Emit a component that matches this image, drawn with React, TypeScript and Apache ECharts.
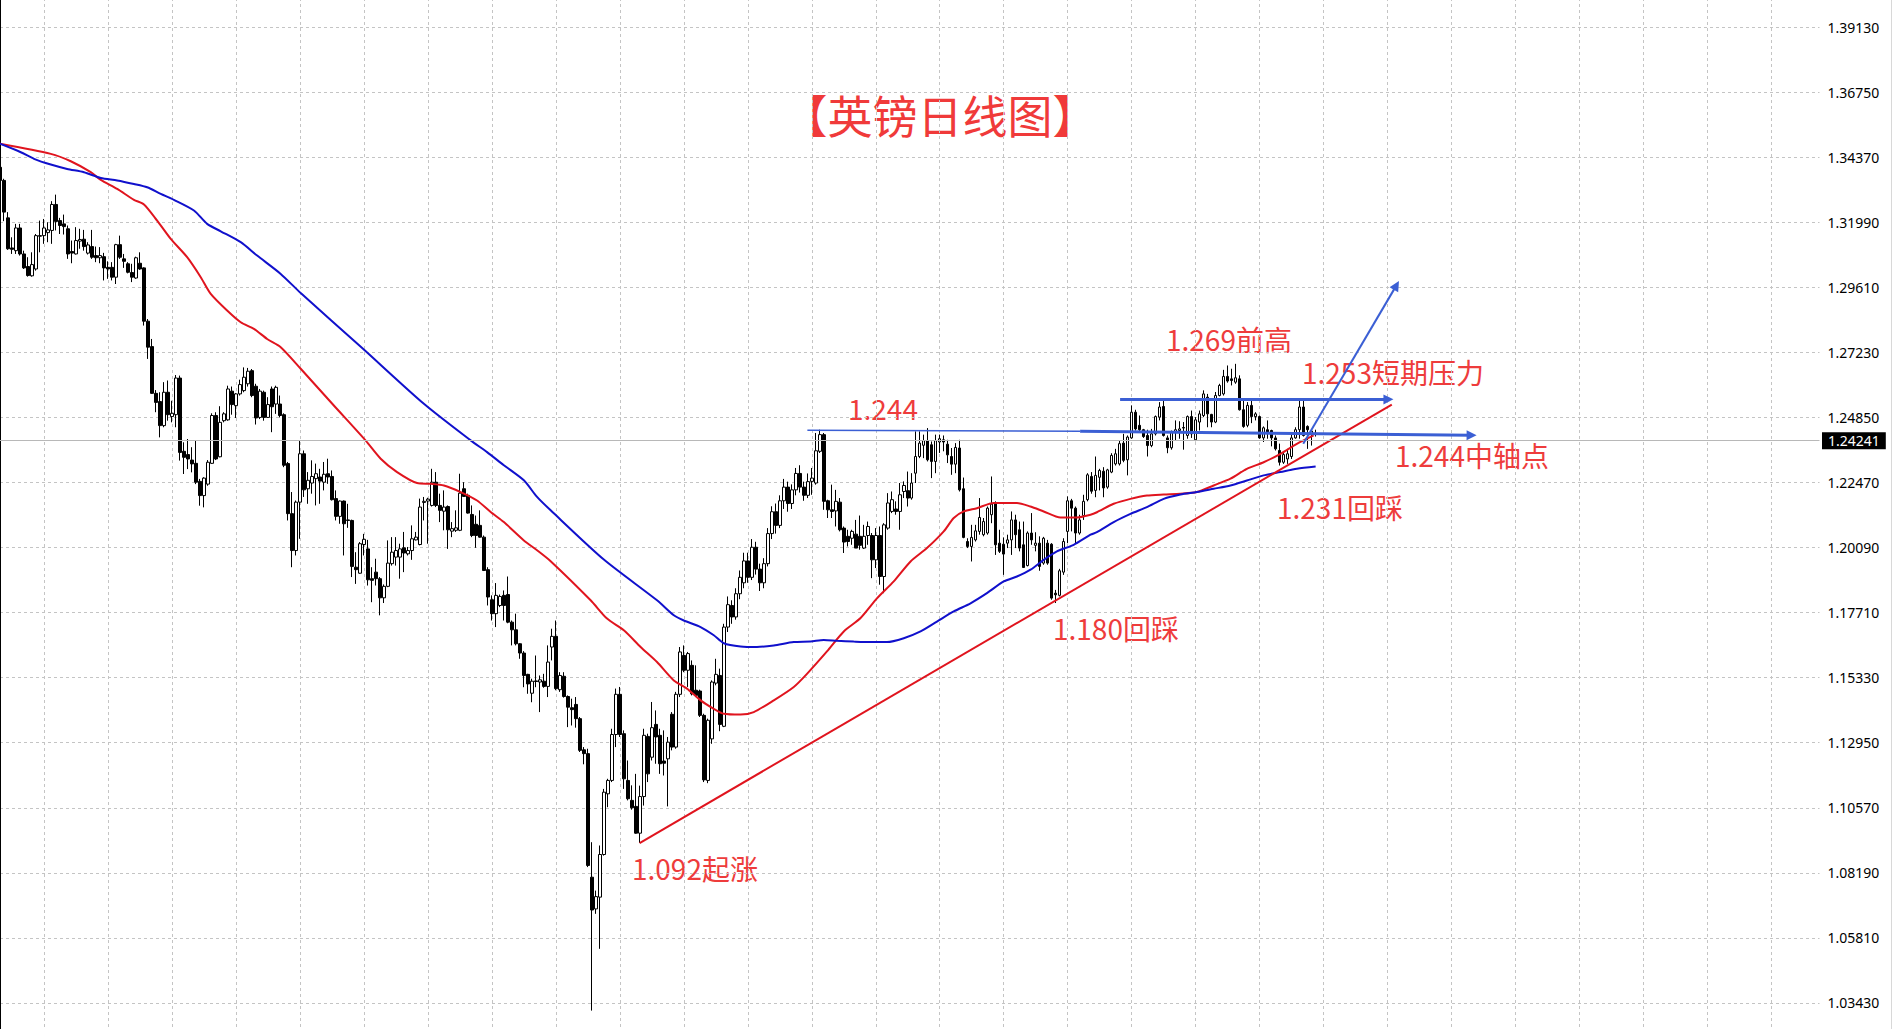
import React, { useEffect, useRef } from "react";
import * as echarts from "echarts";

// ---- data ----
// candles: [open, close, low, high], one per daily bar (bar 0 is the partial one at the left edge)
const ohlc: number[][] = [
  [1.3400,1.3352,1.3346,1.3406],[1.3352,1.3236,1.3203,1.3358],[1.3215,1.3102,1.3098,1.3236],[1.3105,1.3100,1.3083,1.3144],
  [1.3095,1.3178,1.3083,1.3193],[1.3178,1.3083,1.3077,1.3193],[1.3083,1.3032,1.3028,1.3095],[1.3037,1.3004,1.3000,1.3071],
  [1.3003,1.3044,1.3000,1.3089],[1.3028,1.3150,1.3022,1.3156],[1.3150,1.3148,1.3089,1.3205],[1.3150,1.3178,1.3120,1.3211],
  [1.3161,1.3171,1.3126,1.3199],[1.3169,1.3264,1.3120,1.3276],[1.3264,1.3202,1.3169,1.3300],[1.3205,1.3187,1.3156,1.3215],
  [1.3193,1.3183,1.3154,1.3227],[1.3175,1.3083,1.3065,1.3187],[1.3092,1.3086,1.3049,1.3132],[1.3083,1.3132,1.3081,1.3181],
  [1.3130,1.3136,1.3102,1.3175],[1.3137,1.3110,1.3095,1.3171],[1.3086,1.3116,1.3081,1.3126],[1.3110,1.3071,1.3065,1.3171],
  [1.3077,1.3069,1.3053,1.3110],[1.3069,1.3077,1.3049,1.3108],[1.3073,1.3032,1.2986,1.3087],[1.3034,1.3028,1.2992,1.3056],
  [1.3034,1.2998,1.2986,1.3053],[1.2998,1.3117,1.2973,1.3120],[1.3117,1.3071,1.3065,1.3150],[1.3065,1.3056,1.3032,1.3083],
  [1.3047,1.3016,1.3012,1.3053],[1.3015,1.2998,1.2980,1.3047],[1.2995,1.3069,1.2992,1.3073],[1.3049,1.3028,1.3025,1.3089],
  [1.3032,1.2837,1.2821,1.3034],[1.2837,1.2742,1.2699,1.2845],[1.2744,1.2573,1.2571,1.2772],[1.2573,1.2540,1.2504,1.2585],
  [1.2543,1.2455,1.2412,1.2577],[1.2455,1.2577,1.2449,1.2614],[1.2577,1.2495,1.2473,1.2620],[1.2488,1.2500,1.2467,1.2546],
  [1.2495,1.2629,1.2449,1.2640],[1.2629,1.2357,1.2327,1.2638],[1.2361,1.2339,1.2278,1.2394],[1.2349,1.2333,1.2296,1.2406],
  [1.2329,1.2315,1.2284,1.2376],[1.2317,1.2248,1.2241,1.2402],[1.2251,1.2199,1.2162,1.2260],[1.2199,1.2263,1.2156,1.2266],
  [1.2241,1.2321,1.2235,1.2329],[1.2317,1.2492,1.2315,1.2500],[1.2492,1.2333,1.2329,1.2504],[1.2341,1.2467,1.2339,1.2526],
  [1.2473,1.2498,1.2467,1.2504],[1.2476,1.2589,1.2473,1.2601],[1.2581,1.2532,1.2495,1.2598],[1.2528,1.2571,1.2483,1.2574],
  [1.2571,1.2605,1.2565,1.2623],[1.2583,1.2632,1.2577,1.2668],[1.2608,1.2654,1.2598,1.2666],[1.2656,1.2565,1.2559,1.2662],
  [1.2599,1.2483,1.2459,1.2608],[1.2485,1.2581,1.2479,1.2589],[1.2577,1.2485,1.2473,1.2583],[1.2485,1.2532,1.2483,1.2559],
  [1.2589,1.2524,1.2431,1.2598],[1.2534,1.2595,1.2498,1.2601],[1.2534,1.2492,1.2485,1.2565],[1.2495,1.2310,1.2303,1.2500],
  [1.2316,1.2133,1.2108,1.2322],[1.2133,1.1998,1.1937,1.2212],[1.1998,1.2175,1.1980,1.2181],[1.2175,1.2352,1.2041,1.2401],
  [1.2352,1.2220,1.2194,1.2364],[1.2224,1.2255,1.2169,1.2285],[1.2245,1.2269,1.2206,1.2328],[1.2261,1.2279,1.2163,1.2316],
  [1.2267,1.2252,1.2169,1.2297],[1.2248,1.2277,1.2218,1.2322],[1.2279,1.2267,1.2242,1.2334],[1.2269,1.2184,1.2181,1.2291],
  [1.2188,1.2123,1.2108,1.2218],[1.2123,1.2179,1.2096,1.2181],[1.2179,1.2096,1.1980,1.2181],[1.2110,1.2108,1.2081,1.2169],
  [1.2108,1.1940,1.1901,1.2111],[1.1937,1.1928,1.1876,1.1992],[1.1915,1.2023,1.1913,1.2029],[1.2020,1.2039,1.1980,1.2059],
  [1.2004,1.1891,1.1870,1.2037],[1.1895,1.1889,1.1809,1.1937],[1.1919,1.1895,1.1870,1.1968],[1.1895,1.1825,1.1761,1.1901],
  [1.1825,1.1867,1.1806,1.1874],[1.1867,1.1952,1.1864,1.2035],[1.1950,1.1992,1.1943,1.2047],[1.1974,1.1998,1.1943,1.2047],
  [1.1974,1.2004,1.1895,1.2023],[1.2008,1.1989,1.1919,1.2066],[1.1986,1.1998,1.1980,1.2011],[1.1998,1.2041,1.1964,1.2090],
  [1.2037,1.2047,1.2035,1.2066],[1.2020,1.2157,1.2017,1.2188],[1.2174,1.2178,1.2108,1.2194],[1.2179,1.2186,1.2023,1.2191],
  [1.2163,1.2248,1.2159,1.2297],[1.2248,1.2163,1.2157,1.2285],[1.2163,1.2145,1.2102,1.2206],[1.2142,1.2157,1.2072,1.2218],
  [1.2159,1.2074,1.2004,1.2163],[1.2069,1.2078,1.2047,1.2102],[1.2072,1.2081,1.2066,1.2145],[1.2072,1.2208,1.2069,1.2279],
  [1.2224,1.2196,1.2194,1.2248],[1.2200,1.2135,1.2133,1.2206],[1.2130,1.2053,1.2047,1.2163],[1.2094,1.2053,1.2008,1.2126],
  [1.2090,1.2047,1.2045,1.2145],[1.2047,1.1925,1.1923,1.2053],[1.1928,1.1828,1.1797,1.1937],[1.1818,1.1767,1.1742,1.1834],
  [1.1767,1.1834,1.1718,1.1879],[1.1797,1.1830,1.1791,1.1837],[1.1834,1.1797,1.1742,1.1852],[1.1837,1.1736,1.1732,1.1903],
  [1.1736,1.1708,1.1651,1.1742],[1.1708,1.1657,1.1651,1.1767],[1.1657,1.1623,1.1602,1.1659],[1.1623,1.1541,1.1498,1.1630],
  [1.1545,1.1510,1.1474,1.1547],[1.1476,1.1520,1.1443,1.1529],[1.1521,1.1519,1.1498,1.1614],[1.1517,1.1525,1.1407,1.1541],
  [1.1520,1.1501,1.1496,1.1547],[1.1501,1.1590,1.1462,1.1651],[1.1645,1.1684,1.1596,1.1712],[1.1684,1.1493,1.1487,1.1742],
  [1.1489,1.1541,1.1481,1.1553],[1.1538,1.1464,1.1460,1.1553],[1.1464,1.1425,1.1352,1.1468],[1.1423,1.1416,1.1358,1.1456],
  [1.1435,1.1383,1.1350,1.1462],[1.1383,1.1267,1.1261,1.1389],[1.1269,1.1255,1.1216,1.1279],[1.1255,1.0846,1.0840,1.1273],
  [1.0803,1.0683,1.0315,1.0931],[1.0687,1.0732,1.0669,1.0754],[1.0730,1.0886,1.0541,1.0919],[1.0886,1.1114,1.0882,1.1126],
  [1.1108,1.1157,1.1059,1.1163],[1.1157,1.1325,1.1151,1.1346],[1.1325,1.1472,1.1279,1.1493],[1.1472,1.1325,1.1316,1.1499],
  [1.1328,1.1163,1.1126,1.1340],[1.1157,1.1090,1.1084,1.1230],[1.1084,1.1057,1.1050,1.1139],[1.1062,1.0964,1.0962,1.1181],
  [1.0964,1.1098,1.0928,1.1138],[1.1098,1.1322,1.1065,1.1346],[1.1318,1.1181,1.1151,1.1328],[1.1242,1.1350,1.1230,1.1444],
  [1.1362,1.1316,1.1218,1.1413],[1.1322,1.1218,1.1181,1.1346],[1.1228,1.1220,1.1175,1.1340],[1.1236,1.1297,1.1062,1.1316],
  [1.1399,1.1279,1.1267,1.1407],[1.1279,1.1472,1.1273,1.1481],[1.1472,1.1627,1.1462,1.1645],[1.1614,1.1560,1.1553,1.1651],
  [1.1560,1.1621,1.1499,1.1627],[1.1578,1.1474,1.1468,1.1596],[1.1487,1.1468,1.1462,1.1578],[1.1484,1.1395,1.1389,1.1489],
  [1.1395,1.1159,1.1151,1.1401],[1.1157,1.1377,1.1147,1.1383],[1.1309,1.1517,1.1291,1.1523],[1.1513,1.1545,1.1505,1.1602],
  [1.1541,1.1362,1.1337,1.1566],[1.1355,1.1718,1.1352,1.1730],[1.1718,1.1800,1.1700,1.1830],[1.1797,1.1755,1.1730,1.1816],
  [1.1755,1.1840,1.1745,1.1860],[1.1840,1.1900,1.1820,1.1925],[1.1880,1.1960,1.1860,1.1990],[1.1960,1.1900,1.1880,1.1990],
  [1.1900,1.2010,1.1890,1.2040],[1.2010,1.1930,1.1910,1.2030],[1.1930,1.1880,1.1850,1.1950],[1.1880,1.1950,1.1860,1.1970],
  [1.1950,1.2060,1.1940,1.2080],[1.2060,1.2140,1.2040,1.2160],[1.2140,1.2090,1.2060,1.2170],[1.2090,1.2180,1.2080,1.2200],
  [1.2180,1.2230,1.2150,1.2260],[1.2230,1.2170,1.2140,1.2250],[1.2170,1.2220,1.2150,1.2240],[1.2220,1.2280,1.2200,1.2300],
  [1.2280,1.2230,1.2210,1.2310],[1.2230,1.2200,1.2180,1.2250],[1.2200,1.2250,1.2190,1.2280],[1.2251,1.2263,1.2202,1.2300],
  [1.2245,1.2363,1.2239,1.2428],[1.2361,1.2422,1.2355,1.2440],[1.2422,1.2178,1.2147,1.2428],[1.2180,1.2147,1.2117,1.2184],
  [1.2147,1.2141,1.2117,1.2239],[1.2143,1.2178,1.2086,1.2220],[1.2175,1.2074,1.2068,1.2190],[1.2080,1.2029,1.1989,1.2086],
  [1.2050,1.2031,1.2013,1.2074],[1.2043,1.2068,1.2019,1.2074],[1.2058,1.2007,1.2007,1.2110],[1.2050,1.2017,1.2001,1.2126],
  [1.2007,1.2050,1.2004,1.2092],[1.2053,1.2086,1.2019,1.2104],[1.2053,1.1964,1.1897,1.2062],[1.1964,1.2053,1.1934,1.2080],
  [1.2053,1.1903,1.1873,1.2086],[1.1903,1.2092,1.1842,1.2098],[1.2080,1.2172,1.2074,1.2208],[1.2141,1.2184,1.2135,1.2214],
  [1.2150,1.2141,1.2129,1.2178],[1.2141,1.2202,1.2074,1.2245],[1.2214,1.2236,1.2190,1.2251],[1.2217,1.2190,1.2159,1.2287],
  [1.2190,1.2245,1.2184,1.2281],[1.2281,1.2342,1.2245,1.2434],[1.2342,1.2391,1.2336,1.2434],[1.2383,1.2400,1.2336,1.2422],
  [1.2400,1.2330,1.2324,1.2446],[1.2385,1.2324,1.2263,1.2397],[1.2324,1.2400,1.2281,1.2422],[1.2395,1.2407,1.2355,1.2422],
  [1.2403,1.2395,1.2361,1.2419],[1.2387,1.2348,1.2318,1.2403],[1.2342,1.2314,1.2275,1.2373],[1.2314,1.2375,1.2281,1.2391],
  [1.2373,1.2220,1.2214,1.2403],[1.2224,1.2046,1.2043,1.2265],[1.2031,1.2013,1.2007,1.2043],[1.2013,1.2046,1.1958,1.2092],
  [1.2037,1.2070,1.2031,1.2092],[1.2068,1.2119,1.2056,1.2190],[1.2056,1.2104,1.2050,1.2117],[1.2062,1.2153,1.2056,1.2159],
  [1.2129,1.2168,1.2098,1.2269],[1.2168,1.2019,1.1982,1.2178],[1.2025,1.1995,1.1989,1.2074],[1.2021,1.1985,1.1909,1.2046],
  [1.2025,1.2037,1.2007,1.2056],[1.2037,1.2110,1.1982,1.2141],[1.2110,1.2056,1.2007,1.2129],[1.2074,1.2007,1.1995,1.2104],
  [1.2019,1.1936,1.1934,1.2104],[1.1943,1.2062,1.1940,1.2068],[1.2062,1.2037,1.2019,1.2135],[1.2017,1.2025,1.1995,1.2065],
  [1.2025,1.1940,1.1924,1.2050],[1.1952,1.2043,1.1946,1.2048],[1.2025,1.1952,1.1946,1.2037],[1.2021,1.1824,1.1818,1.2025],
  [1.1842,1.1836,1.1806,1.1854],[1.1834,1.1924,1.1830,1.1931],[1.1919,1.2031,1.1909,1.2043],[1.2068,1.2180,1.2025,1.2196],
  [1.2180,1.2153,1.2068,1.2187],[1.2153,1.2062,1.2025,1.2159],[1.2062,1.2110,1.2056,1.2129],[1.2126,1.2178,1.2110,1.2202],
  [1.2184,1.2275,1.2178,1.2281],[1.2269,1.2215,1.2206,1.2285],[1.2218,1.2273,1.2193,1.2342],[1.2266,1.2291,1.2218,1.2297],
  [1.2288,1.2227,1.2193,1.2303],[1.2230,1.2293,1.2224,1.2297],[1.2285,1.2346,1.2281,1.2354],[1.2315,1.2352,1.2309,1.2370],
  [1.2315,1.2389,1.2309,1.2401],[1.2391,1.2328,1.2321,1.2425],[1.2330,1.2413,1.2273,1.2419],[1.2410,1.2504,1.2407,1.2529],
  [1.2504,1.2443,1.2437,1.2513],[1.2456,1.2440,1.2431,1.2492],[1.2440,1.2415,1.2410,1.2443],[1.2419,1.2382,1.2342,1.2440],
  [1.2382,1.2425,1.2376,1.2443],[1.2425,1.2488,1.2419,1.2492],[1.2486,1.2523,1.2474,1.2541],[1.2525,1.2419,1.2415,1.2547],
  [1.2410,1.2374,1.2354,1.2419],[1.2374,1.2431,1.2367,1.2437],[1.2431,1.2440,1.2401,1.2474],[1.2437,1.2443,1.2407,1.2471],
  [1.2448,1.2446,1.2367,1.2468],[1.2419,1.2488,1.2407,1.2492],[1.2488,1.2425,1.2410,1.2510],[1.2403,1.2476,1.2398,1.2486],
  [1.2468,1.2498,1.2437,1.2510],[1.2492,1.2571,1.2486,1.2584],[1.2559,1.2498,1.2449,1.2571],[1.2496,1.2468,1.2449,1.2498],
  [1.2468,1.2565,1.2464,1.2578],[1.2565,1.2602,1.2562,1.2608],[1.2571,1.2635,1.2565,1.2659],[1.2635,1.2618,1.2612,1.2675],
  [1.2626,1.2620,1.2602,1.2663],[1.2614,1.2630,1.2608,1.2681],[1.2626,1.2513,1.2510,1.2639],[1.2513,1.2452,1.2447,1.2547],
  [1.2456,1.2529,1.2449,1.2541],[1.2529,1.2488,1.2464,1.2547],[1.2488,1.2498,1.2474,1.2504],[1.2488,1.2410,1.2407,1.2492],
  [1.2410,1.2447,1.2395,1.2452],[1.2440,1.2427,1.2407,1.2474],[1.2437,1.2410,1.2379,1.2440],[1.2410,1.2370,1.2364,1.2419],
  [1.2364,1.2321,1.2309,1.2389],[1.2321,1.2349,1.2315,1.2358],[1.2333,1.2352,1.2315,1.2370],[1.2342,1.2410,1.2333,1.2431],
  [1.2410,1.2440,1.2407,1.2449],[1.2440,1.2523,1.2407,1.2547],[1.2523,1.2419,1.2415,1.2547],[1.2452,1.2440,1.2370,1.2456],
  [1.2423,1.2435,1.2382,1.2443],[1.2427,1.2424,1.2415,1.2440],
];

// moving averages read at sample bars: [bar, value]
const redMA: number[][] = [
  [0,1.3486],[12.7,1.3449],[17.7,1.3422],[22.7,1.3382],[25.2,1.3354],[29.3,1.3321],[33.5,1.3281],[36,1.3264],
  [39.3,1.3205],[42.7,1.3138],[46.8,1.3071],[50.2,1.2998],[52.7,1.2937],[56.8,1.2876],[60.2,1.2833],[63.5,1.2809],
  [66.8,1.2772],[70.2,1.2742],[75.2,1.2663],[83.2,1.2533],[91.4,1.2401],[95.2,1.2334],[99.3,1.2285],[104.3,1.2245],
  [107.7,1.2242],[111,1.2236],[115.2,1.2212],[119.3,1.2181],[122.7,1.2139],[126,1.2102],[131,1.2035],[134.3,1.1999],
  [137.7,1.1959],[147.7,1.1816],[151.8,1.1749],[156,1.1706],[160.2,1.1645],[164.3,1.1590],[168.5,1.1523],[171.8,1.1493],
  [175.2,1.1450],[178.5,1.1419],[181,1.1401],[185.2,1.1398],[188.5,1.1407],[193.5,1.1450],[198.5,1.1499],[201.8,1.1547],
  [206.8,1.1629],[211,1.1702],[215.2,1.1751],[219.3,1.1823],[223.5,1.1885],[227.7,1.1958],[231.8,1.2007],[236,1.2068],
  [238.5,1.2117],[241,1.2141],[244.3,1.2153],[248.5,1.2172],[254.3,1.2172],[257.7,1.2159],[261,1.2141],[265.2,1.2119],
  [269.3,1.2119],[272.7,1.2129],[274.3,1.2138],[278.5,1.2169],[282.7,1.2187],[286.8,1.2199],[291,1.2203],[295.2,1.2206],
  [299.3,1.2212],[303.5,1.2236],[307.7,1.2261],[311.8,1.2297],[316,1.2321],[320.2,1.2352],[324.3,1.2388],[328.5,1.2419],
];
const blueMA: number[][] = [
  [0,1.3486],[5.2,1.3455],[8.5,1.3431],[12.7,1.3410],[16.8,1.3394],[21,1.3382],[25.2,1.3361],[29.3,1.3352],
  [33.5,1.3339],[36.8,1.3327],[40.2,1.3303],[43.5,1.3281],[48.5,1.3242],[51.8,1.3193],[55.2,1.3166],[60.2,1.3126],
  [64.3,1.3077],[70.2,1.3010],[75.2,1.2940],[90.5,1.2740],[106,1.2535],[117.7,1.2401],[121.8,1.2358],[126,1.2310],
  [131,1.2255],[134.3,1.2194],[137.7,1.2145],[151,1.1965],[164.3,1.1816],[168.5,1.1761],[171,1.1742],[175.2,1.1718],
  [178.5,1.1688],[181,1.1659],[185.2,1.1647],[189.3,1.1645],[193.5,1.1651],[198.5,1.1663],[202.7,1.1665],[206,1.1671],
  [209.3,1.1668],[213.5,1.1665],[217.7,1.1663],[221.8,1.1663],[226,1.1677],[230.2,1.1702],[234.3,1.1738],[238.5,1.1775],
  [242.7,1.1805],[246.8,1.1842],[251,1.1885],[254.3,1.1903],[257.7,1.1928],[261,1.1964],[264.3,1.1995],[268.5,1.2019],
  [272.7,1.2056],[274.3,1.2065],[278.5,1.2102],[282.7,1.2132],[286.8,1.2157],[291,1.2187],[295.2,1.2203],[299.3,1.2212],
  [303.5,1.2224],[307.7,1.2236],[311.8,1.2254],[316,1.2273],[320.2,1.2285],[324.3,1.2297],[329,1.2305],
];

// drawn trend lines: [bar, price] end points
const trendLine = [[159.95, 1.0928], [348.05, 1.2532]];
const pivotThin = [[201.9, 1.2438], [270.1, 1.2434]];
const pivotArrow = [[270.1, 1.2434], [368.0, 1.2420]];
const resistArrow = [[280.1, 1.2550], [347.2, 1.2551]];
const breakoutArrow = [[325.9, 1.2389], [349.2, 1.2968]];

const LAST_PRICE = 1.24241;
const Y_MIN = 1.0105;
const Y_MAX = 1.4151;
const Y_STEP = 0.0238;
const BAR_SLOTS = 456;

const titleText = "【英镑日线图】";
const noteTexts = ["1.244", "1.269前高", "1.253短期压力", "1.244中轴点", "1.231回踩", "1.180回踩", "1.092起涨"];

// ---- layout ----
const TOP_OFF = 38.47;
const CH_H = 1106.2;
const notePos = [[848, 408], [1166, 339], [1302, 372], [1395, 455], [1277, 507], [1053, 628], [632, 868]];
const RED = "#e0141e";
const MA_BLUE = "#1010cc";
const ANNO_BLUE = "#3b5fd4";
const TEXT_RED = "#ee3c3c";
const GRID_GRAY = "#c4c4c4";

export default function App() {
  const ref = useRef<HTMLDivElement>(null);
  useEffect(() => {
    const el = ref.current;
    if (!el) return;
    const chart = echarts.init(el, undefined, { renderer: "svg" });
    const cats = Array.from({ length: BAR_SLOTS }, (_, i) => String(i));
    const option: any = {
      animation: false,
      backgroundColor: "#ffffff",
      textStyle: { fontFamily: "Noto Sans" },
      grid: { left: -0.5, top: 0, width: 1820, bottom: 0, containLabel: false },
      xAxis: [
        {
          type: "category",
          data: cats,
          boundaryGap: false,
          axisLine: { show: false },
          axisTick: { show: false },
          axisLabel: { show: false },
          splitLine: {
            show: true,
            interval: (index: number) => index % 16 === 11,
            lineStyle: { color: GRID_GRAY, type: [3, 3], width: 1 },
          },
        },
        { type: "value", min: 0, max: BAR_SLOTS - 1, show: false },
      ],
      yAxis: {
        type: "value",
        position: "right",
        min: Y_MIN,
        max: Y_MAX,
        interval: Y_STEP,
        scale: true,
        axisLine: { show: true, lineStyle: { color: "#000", width: 1 } },
        axisTick: { show: false },
        axisLabel: {
          show: true,
          margin: 8,
          color: "#000",
          fontSize: 14,
          fontFamily: "Noto Sans",
          showMinLabel: false,
          showMaxLabel: false,
          formatter: (v: number) => (v < 1.02 || v > 1.4 ? "" : v.toFixed(5)),
        },
        splitLine: { show: true, lineStyle: { color: GRID_GRAY, type: [3, 3], width: 1 } },
      },
      series: [
        {
          type: "candlestick",
          xAxisIndex: 0,
          yAxisIndex: 0,
          data: ohlc,
          barWidth: 3,
          itemStyle: {
            color: "#ffffff",
            color0: "#000000",
            borderColor: "#000000",
            borderColor0: "#000000",
            borderWidth: 1,
          },
          markLine: {
            silent: true,
            symbol: ["none", "none"],
            data: [{ yAxis: LAST_PRICE }],
            lineStyle: { color: "#b8b8b8", width: 1, type: "solid" },
            label: {
              show: true,
              position: "end",
              distance: 2.5,
              formatter: () => LAST_PRICE.toFixed(5),
              backgroundColor: "#000",
              color: "#fff",
              padding: [2, 6, 1, 6],
              fontSize: 14,
              fontFamily: "Noto Sans",
            },
            emphasis: { disabled: true },
          },
        },
        {
          type: "line",
          xAxisIndex: 1,
          data: redMA,
          showSymbol: false,
          symbol: "none",
          smooth: 0.25,
          lineStyle: { color: RED, width: 2 },
          silent: true,
        },
        {
          type: "line",
          xAxisIndex: 1,
          data: blueMA,
          showSymbol: false,
          symbol: "none",
          smooth: 0.25,
          lineStyle: { color: MA_BLUE, width: 2 },
          silent: true,
        },
        {
          type: "line",
          xAxisIndex: 1,
          data: trendLine,
          showSymbol: false,
          symbol: "none",
          lineStyle: { color: RED, width: 2 },
          silent: true,
        },
        {
          type: "line",
          xAxisIndex: 1,
          data: pivotThin,
          showSymbol: false,
          symbol: "none",
          lineStyle: { color: ANNO_BLUE, width: 1.5 },
          silent: true,
          markLine: {
            silent: true,
            symbol: ["none", "triangle"],
            symbolSize: 10,
            label: { show: false },
            emphasis: { disabled: true },
            lineStyle: { color: ANNO_BLUE, type: "solid", width: 3 },
            data: [
              [{ coord: pivotArrow[0], lineStyle: { width: 3 } }, { coord: pivotArrow[1] }],
              [{ coord: resistArrow[0], lineStyle: { width: 3 } }, { coord: resistArrow[1] }],
              [{ coord: breakoutArrow[0], lineStyle: { width: 2 } }, { coord: breakoutArrow[1] }],
            ],
          },
        },
      ],
      graphic: [
        {
          type: "rect",
          shape: { x: 1891, y: 0, width: 1, height: CH_H },
          style: { fill: "#d8d8d8" },
          silent: true,
        },
        {
          type: "text",
          x: 940,
          y: 114 + TOP_OFF,
          style: {
            text: titleText,
            fill: "#f03a3a",
            fontSize: 45,
            fontFamily: "Noto Sans CJK SC",
            align: "center",
            verticalAlign: "middle",
          },
          silent: true,
        },
        ...noteTexts.map((t, i) => ({
          type: "text",
          x: notePos[i][0],
          y: notePos[i][1] + TOP_OFF,
          style: {
            text: t,
            fill: TEXT_RED,
            fontSize: 28,
            fontFamily: "Noto Sans CJK SC",
            align: "left",
            verticalAlign: "middle",
          },
          silent: true,
        })),
      ],
    };
    chart.setOption(option);
    return () => chart.dispose();
  }, []);
  return (
    <div
      ref={ref}
      style={{ position: "fixed", left: 0, top: -TOP_OFF, width: 1894, height: CH_H, background: "#fff" }}
    />
  );
}
